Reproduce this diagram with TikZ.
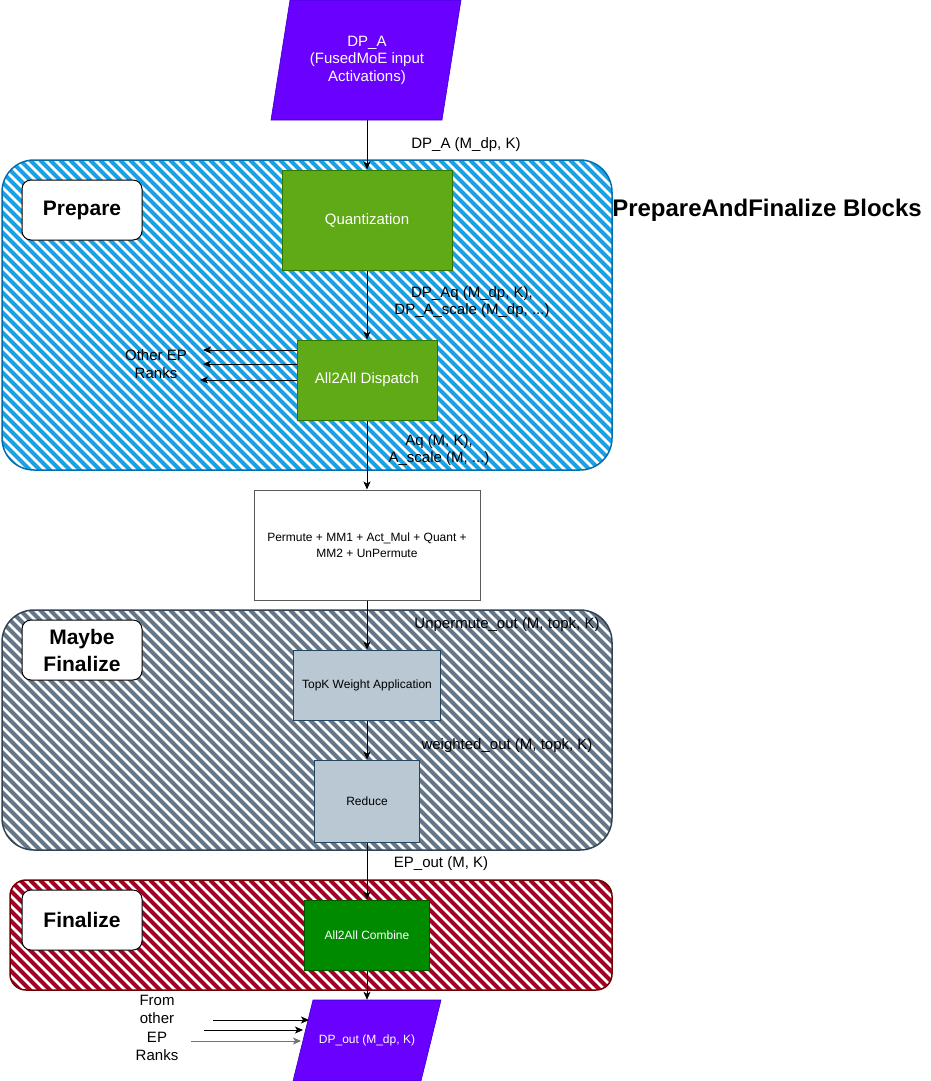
\documentclass[tikz,border=0pt]{standalone}
\usepackage{fontspec}
\setmainfont{Liberation Sans}
\usetikzlibrary{arrows.meta}
\definecolor{purp}{HTML}{6A00FF}
\definecolor{purpS}{HTML}{3700CC}
\definecolor{grn}{HTML}{60A917}
\definecolor{grnS}{HTML}{2D7600}
\definecolor{hblue}{HTML}{1BA1E2}
\definecolor{hblueS}{HTML}{006EAF}
\definecolor{hgrey}{HTML}{647687}
\definecolor{hgreyS}{HTML}{314354}
\definecolor{hred}{HTML}{A20025}
\definecolor{hredS}{HTML}{6F0000}
\definecolor{slate}{HTML}{BAC8D3}
\definecolor{slateS}{HTML}{23445D}
\definecolor{dgrn}{HTML}{008A00}
\definecolor{dgrnS}{HTML}{005700}
\newcommand{\myhatch}[7]{%
  \begin{scope}
    \clip[rounded corners=#5] (#1,#2) rectangle (#3,#4);
    \foreach \i in {-360,-350,...,640} \draw[#6, line width=4pt] (\i,#2) -- ++(340,340);
  \end{scope}
  \draw[#7, line width=1.5pt, rounded corners=#5] (#1,#2) rectangle (#3,#4);
}
\begin{document}
\begin{tikzpicture}[x=1pt,y=-1pt,
  arr/.style={draw=black, line width=0.9pt, -{Stealth[length=8pt,width=7pt,inset=2pt]}},
  lbl/.style={font=\fontsize{15}{17.5}\selectfont, align=center, inner sep=0pt},
  box/.style={line width=1pt, inner sep=0pt, align=center},
  tagbox/.style={draw=black, fill=white, rounded corners=9pt, line width=1pt,
     minimum width=120pt, minimum height=60pt, inner sep=0pt, align=center,
     font=\bfseries\fontsize{21}{27}\selectfont}]
\useasboundingbox (0,0) rectangle (931,1081);

% containers
\myhatch{2}{160}{612}{470}{32pt}{hblue}{hblueS}
\myhatch{2}{610}{612}{850}{32pt}{hgrey}{hgreyS}
\myhatch{10}{880}{612}{990}{16pt}{hred}{hredS}

% container tags
\node[tagbox] (tprep) at (82,210) {Prepare};
\node[tagbox] (tmaybe) at (82,650) {Maybe\\Finalize};
\node[tagbox] (tfin) at (82,920) {Finalize};
\node[font=\bfseries\fontsize{24}{28}\selectfont, inner sep=0pt] (title) at (767,210) {PrepareAndFinalize Blocks};

% input parallelogram
\draw[purpS, fill=purp, line width=0.6pt] (290,0) -- (461,0) -- (442,120) -- (271,120) -- cycle;
\node[font=\fontsize{15}{17.5}\selectfont, text=white, align=center, inner sep=0pt,
      minimum width=170pt, minimum height=120pt] (dpA) at (367,60) {DP\_A\\(FusedMoE input\\Activations)};

% boxes
\node[box, draw=grnS, fill=grn, text=white, minimum width=170pt, minimum height=100pt,
      font=\fontsize{15}{18}\selectfont] (quant) at (367,220) {Quantization};
\node[box, draw=grnS, fill=grn, text=white, minimum width=140pt, minimum height=80pt,
      font=\fontsize{15}{18}\selectfont] (disp) at (367,380) {All2All Dispatch};
\node[box, draw=black!65, fill=white, minimum width=226pt, minimum height=110pt,
      font=\fontsize{12}{15.5}\selectfont] (perm) at (367,545) {Permute + MM1 + Act\_Mul + Quant +\\MM2 + UnPermute};
\node[box, draw=slateS, fill=slate, minimum width=147pt, minimum height=70pt,
      font=\fontsize{12}{14}\selectfont] (topk) at (367,685) {TopK Weight Application};
\node[box, draw=slateS, fill=slate, minimum width=105pt, minimum height=82pt,
      font=\fontsize{12}{14}\selectfont] (reduce) at (367,801) {Reduce};
\node[box, draw=dgrnS, fill=dgrn, text=white, minimum width=125pt, minimum height=70pt,
      font=\fontsize{12}{14}\selectfont] (comb) at (367,935) {All2All Combine};

% output parallelogram
\draw[purpS, fill=purp, line width=0.6pt] (313,1000) -- (441,1000) -- (421,1081) -- (293,1081) -- cycle;
\node[font=\fontsize{12}{14}\selectfont, text=white, align=center, inner sep=0pt,
      minimum width=128pt, minimum height=81pt] (dpout) at (367,1040.5) {DP\_out (M\_dp, K)};

% main flow
\draw[arr] (dpA.south) -- (quant.north);
\draw[arr] (quant.south) -- (disp.north);
\draw[arr] (disp.south) -- (perm.north);
\draw[arr] (perm.south) -- (topk.north);
\draw[arr] (topk.south) -- (reduce.north);
\draw[arr] (reduce.south) -- (comb.north);
\draw[arr] (comb.south) -- (dpout.north);

% flow labels
\node[lbl] (l1) at (466,145) {DP\_A (M\_dp, K)};
\node[lbl] (l2) at (472,302) {DP\_Aq (M\_dp, K),\\DP\_A\_scale (M\_dp, ...)};
\node[lbl] (l3) at (439,450) {Aq (M, K),\\A\_scale (M, ...)};
\node[lbl] (l4) at (507,625) {Unpermute\_out (M, topk, K)};
\node[lbl] (l5) at (507,746) {weighted\_out (M, topk, K)};
\node[lbl] (l6) at (441,864) {EP\_out (M, K)};

% dispatch to other ranks
\coordinate (o1) at (203,350);
\coordinate (o2) at (203,364);
\coordinate (o3) at (200,380);
\draw[arr] (disp.west |- o1) -- (o1);
\draw[arr] (disp.west |- o2) -- (o2);
\draw[arr] (disp.west |- o3) -- (o3);
\node[lbl] (other) at (156,364) {Other EP\\Ranks};

% from other ranks
\coordinate (f1s) at (213,1020); \coordinate (f1e) at (309,1020);
\coordinate (f2s) at (204,1030); \coordinate (f2e) at (303,1030);
\coordinate (f3s) at (191,1041); \coordinate (f3e) at (301,1041);
\draw[arr] (f1s) -- (f1e);
\draw[arr] (f2s) -- (f2e);
\draw[arr, draw=black!55] (f3s) -- (f3e);
\node[lbl, font=\fontsize{15}{18.3}\selectfont] (from) at (157,1028) {From\\other\\EP\\Ranks};
\end{tikzpicture}
\end{document}
